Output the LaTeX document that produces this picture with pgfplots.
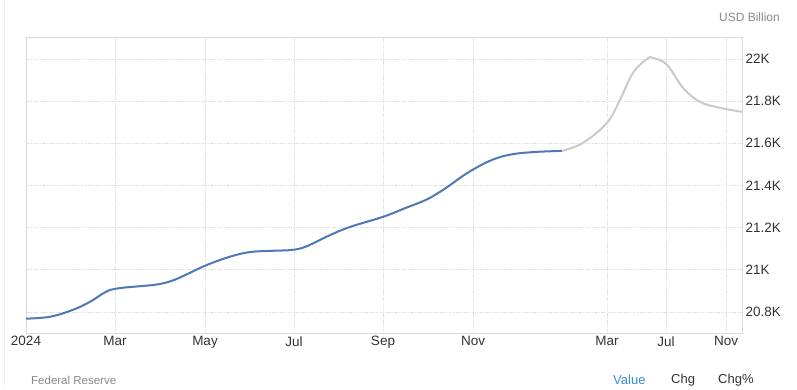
\documentclass[border=0pt]{standalone}
\usepackage{fontspec}
\setmainfont{Liberation Sans}
\usepackage{pgfplots}
\pgfplotsset{compat=1.18}
\definecolor{blueline}{HTML}{4F78B4}
\definecolor{grayline}{HTML}{CACACA}
\definecolor{txt}{HTML}{333333}
\definecolor{lighttxt}{HTML}{8A8A8A}
\definecolor{gridc}{HTML}{E2E2E2}
\definecolor{axisc}{HTML}{DADADA}
\definecolor{valblue}{HTML}{3C8DD6}
\begin{document}
\begin{tikzpicture}[x=1bp,y=1bp]
\path[use as bounding box, fill=white] (0,0) rectangle (797,389);
\draw[gray!12] (4,0) -- (4,389);
\begin{axis}[
  at={(26bp,56bp)}, anchor=south west, scale only axis,
  width=716bp, height=296bp,
  xmin=26, xmax=742, ymin=20700, ymax=22104,
  xtick={26,115,205,294,383,473,607,666,726},
  xticklabels={2024,Mar,May,Jul,Sep,Nov,Mar,Jul,Nov},
  ytick={20800,21000,21200,21400,21600,21800,22000},
  yticklabels={20.8K,21K,21.2K,21.4K,21.6K,21.8K,22K},
  scaled y ticks=false,
  yticklabel pos=right,
  major tick length=0pt,
  grid=major,
  major grid style={draw=gridc, line width=0.6bp, dash pattern=on 1.5bp off 0.8bp},
  axis line style={draw=axisc, line width=0.8bp},
  tick label style={font=\fontsize{13.5bp}{16bp}\selectfont, text=txt},
  /pgf/number format/assume math mode=true,
  clip=false,
]
\addplot[blueline, line width=2bp, smooth, tension=0.6] coordinates {
(26,20768) (50,20777) (73,20810) (90,20848) (107,20898) (120,20913)
(140,20922) (158,20931) (176,20955) (205,21019) (230,21062) (250,21084)
(272,21090) (292,21094) (306,21110) (328,21160) (350,21203) (383,21251)
(405,21292) (427,21334) (445,21385) (467,21458) (490,21517) (510,21546)
(533,21558) (562,21564)
};
\addplot[grayline, line width=2bp, smooth, tension=0.6] coordinates {
(562,21564) (583,21602) (607,21697) (620,21806) (633,21934) (647,22000)
(653,22005) (667,21972) (683,21863) (700,21796) (720,21768) (742,21749)
};
\end{axis}
\node[anchor=east, text=lighttxt, font=\fontsize{12bp}{14bp}\selectfont, inner sep=0] at (780,372) {USD Billion};
\node[anchor=west, text=lighttxt, font=\fontsize{11.5bp}{14bp}\selectfont, inner sep=0] at (31,9) {Federal Reserve};
\node[anchor=west, text=valblue, font=\fontsize{13bp}{15bp}\selectfont, inner sep=0] at (613,9) {Value};
\node[anchor=west, text=txt, font=\fontsize{13bp}{15bp}\selectfont, inner sep=0] at (671,9) {Chg};
\node[anchor=west, text=txt, font=\fontsize{13bp}{15bp}\selectfont, inner sep=0] at (718,9) {Chg\%};
\end{tikzpicture}
\end{document}
